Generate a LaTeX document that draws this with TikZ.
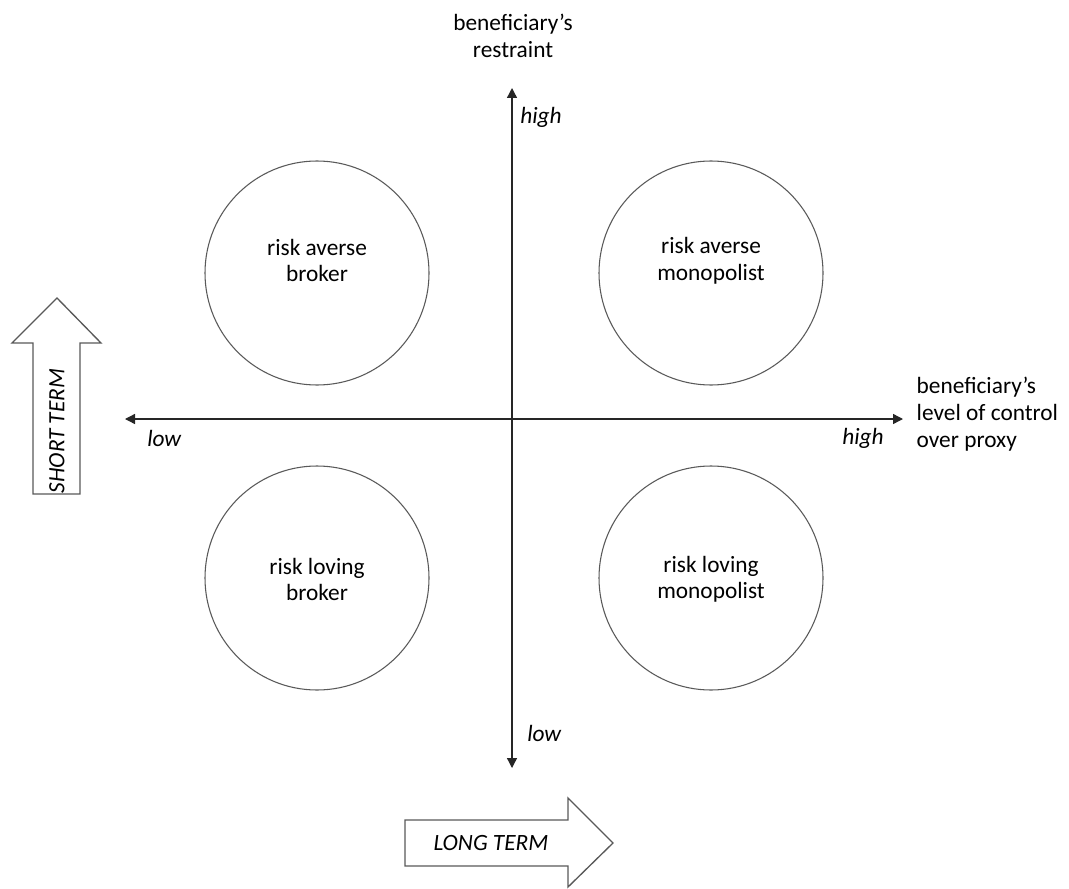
\documentclass[tikz,border=0pt]{standalone}
\usepackage{fontspec}
\setmainfont{Carlito}
\usetikzlibrary{arrows.meta,positioning}
\definecolor{ringline}{HTML}{595959}
\definecolor{axisline}{HTML}{262626}

\begin{document}
\begin{tikzpicture}[
  x=0.75pt, y=-0.75pt,
  quad/.style={draw=ringline, line width=0.8pt, circle, minimum size=168pt, inner sep=0pt},
  qtext/.style={align=center, font=\fontsize{17.5}{20}\selectfont},
  lbl/.style={font=\fontsize{17.5}{20}\selectfont\itshape, inner sep=0pt},
  axis/.style={-{Triangle[length=7.5pt,width=7.5pt]}, line width=1pt, axisline},
  bigarrow/.style={draw=ringline, line width=1pt, fill=white, line join=miter}
]
  \useasboundingbox (0,0) rectangle (1069,888);

  % axes
  \coordinate (origin) at (512,419);
  \coordinate (ytop) at (512,88);
  \coordinate (ybot) at (512,768);
  \coordinate (xleft) at (125,419);
  \coordinate (xright) at (903,419);
  \draw[axis] (origin) -- (ytop);
  \draw[axis] (origin) -- (ybot);
  \draw[axis] (origin) -- (xleft);
  \draw[axis] (origin) -- (xright);

  \node[lbl, anchor=west] (yhigh) at (520,117) {high};
  \node[lbl, anchor=west] (ylow) at (527,733) {low};
  \node[lbl, anchor=west] (xlow) at (147,438) {low};
  \node[lbl, anchor=east] (xhigh) at (884,438) {high};

  \node[qtext, anchor=south] (ytitle) at (513,62) {beneficiary’s\\restraint};
  \node[qtext, anchor=west, align=left] (xtitle) at (912,414) {beneficiary’s\\level of control\\over proxy};

  % quadrants
  \node[quad] (rab) at (317,273) {};
  \node[quad] (ram) at (711,273) {};
  \node[quad] (rlb) at (317,578) {};
  \node[quad] (rlm) at (711,578) {};
  \node[qtext] at ([yshift=9.5pt]rab.center) {risk averse\\broker};
  \node[qtext] at ([yshift=9pt]ram.center) {risk averse\\monopolist};
  \node[qtext] at ([yshift=-1pt]rlb.center) {risk loving\\broker};
  \node[qtext] at ([yshift=-1pt]rlm.center) {risk loving\\monopolist};

  % time arrows
  \draw[bigarrow] (33,494) -- (33,343) -- (12,343) -- (57,298) -- (101,343) -- (80,343) -- (80,494) -- cycle;
  \node[lbl, rotate=90] (short) at (57,431) {SHORT TERM};

  \draw[bigarrow] (405,820) -- (568,820) -- (568,798) -- (613,843) -- (568,887) -- (568,866) -- (405,866) -- cycle;
  \node[lbl] (long) at (491,843) {LONG TERM};
\end{tikzpicture}
\end{document}
